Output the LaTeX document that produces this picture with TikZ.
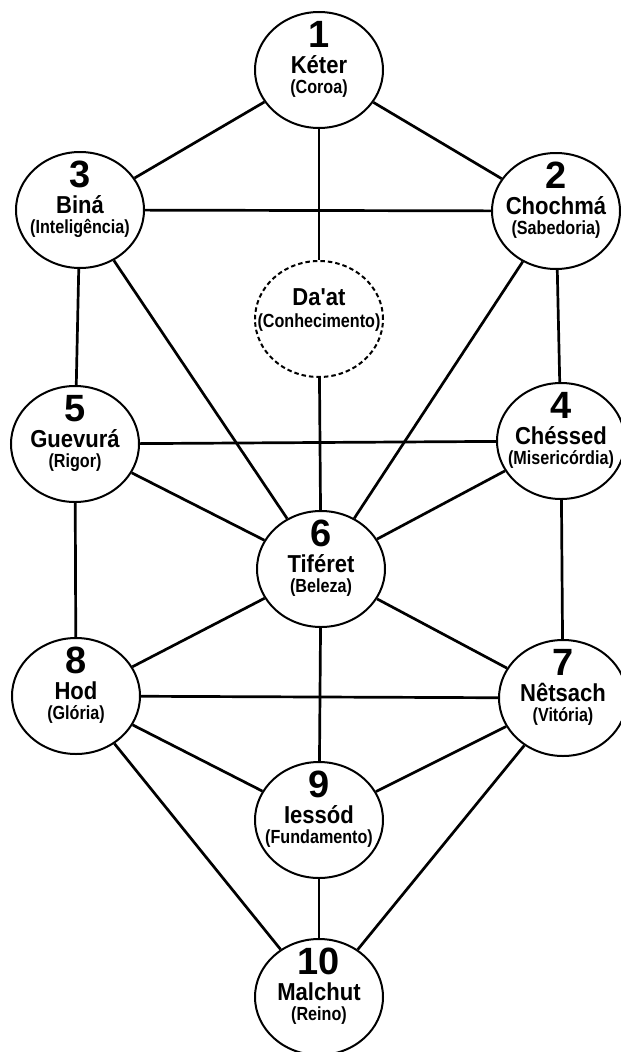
\documentclass[tikz,border=0pt]{standalone}
\usepackage{fontspec}
\setmainfont{Liberation Sans}
\newfontfamily\numfont{Liberation Sans Bold}
\newfontfamily\namefont[FakeStretch=0.9]{Liberation Sans Bold}
\newfontfamily\subfont[FakeStretch=0.85]{Liberation Sans Bold}
\usetikzlibrary{shapes.geometric,calc}
\tikzset{
  sef/.style={draw, line width=2pt, ellipse, minimum width=128pt, minimum height=116pt, inner sep=0pt},
  daat/.style={sef, dash pattern=on 4.5pt off 3pt},
  conn/.style={line width=2.7pt},
  numtxt/.style={anchor=base, inner sep=0pt, font=\fontsize{38}{38}\selectfont\numfont},
  nametxt/.style={anchor=base, inner sep=0pt, font=\fontsize{24.5}{24.5}\selectfont\namefont},
  subtxt/.style={anchor=base, inner sep=0pt, font=\fontsize{19}{19}\selectfont\subfont},
}
\newcommand\sefira[6]{%
  \node[sef] (#1) at (#2,#3) {};
  \node[numtxt] (#1n) at ($(#1)+(0,-23)$) {#4};
  \node[nametxt] (#1a) at ($(#1)+(0,3)$) {#5};
  \node[subtxt] (#1s) at ($(#1)+(0,23)$) {#6};
}
\begin{document}
\begin{tikzpicture}[x=1pt,y=-1pt]
\useasboundingbox (0,0) rectangle (621,1052);
\sefira{k}{319}{70}{1}{Kéter}{(Coroa)}
\sefira{b}{80}{210}{3}{Biná}{(Inteligência)}
\sefira{c}{556}{211}{2}{Chochmá}{(Sabedoria)}
\node[daat] (d) at (319,319) {};
\node[nametxt] (da) at ($(d)+(0,-14)$) {Da'at};
\node[subtxt] (ds) at ($(d)+(0,8)$) {(Conhecimento)};
\sefira{g}{75}{444}{5}{Guevurá}{(Rigor)}
\sefira{h}{561}{441}{4}{Chéssed}{(Misericórdia)}
\sefira{t}{321}{569}{6}{Tiféret}{(Beleza)}
\sefira{o}{76}{696}{8}{Hod}{(Glória)}
\sefira{n}{563}{698}{7}{Nêtsach}{(Vitória)}
\sefira{i}{319}{820}{9}{Iessód}{(Fundamento)}
\sefira{m}{319}{997}{10}{Malchut}{(Reino)}
\foreach \a/\b in {k/b,k/c,k/d,b/c,b/g,b/t,c/h,c/t,d/t,g/h,g/t,h/t,g/o,h/n,t/o,t/n,t/i,o/n,o/i,n/i,o/m,n/m,i/m}
  \draw[conn] (\a) -- (\b);
\end{tikzpicture}
\end{document}
